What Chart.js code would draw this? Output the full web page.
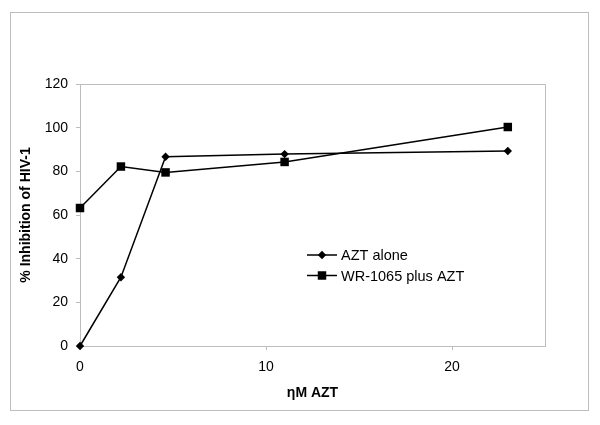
<!DOCTYPE html>
<html>
<head>
<meta charset="utf-8">
<script src="https://cdn.jsdelivr.net/npm/chart.js@4"></script>
<style>
  body { margin: 0; background: #fff; }
  #wrap { width: 600px; height: 425px; }
</style>
</head>
<body>
<div id="wrap"><canvas id="chart"></canvas></div>
<script>
// concentrations (nM) et % inhibition
const doses = [0, 2.2, 4.6, 11, 23];
const aztAlone = [0, 31.5, 86.7, 87.9, 89.3];
const wrPlusAzt = [63.2, 82.2, 79.5, 84.3, 100.3];
const seriesNames = ['AZT alone', 'WR-1065 plus AZT'];
const yTicks = [0, 20, 40, 60, 80, 100, 120];
const xTicks = [0, 10, 20];

const ctx = document.getElementById('chart');
const grey = '#bdbdbd';
const fontFam = '"Liberation Sans", Arial, sans-serif';

// cadre gris, bords haut/droite de la zone, legende dans le graphe
const cadre = {
  id: 'cadre',
  afterDraw(chart) {
    const c = chart.ctx;
    const a = chart.chartArea;
    c.save();
    c.strokeStyle = grey;
    c.lineWidth = 1;
    c.strokeRect(10.5, 12.5, 578, 398);
    c.beginPath();
    c.moveTo(a.left, a.top + 0.5);
    c.lineTo(a.right + 0.5, a.top + 0.5);
    c.lineTo(a.right + 0.5, a.bottom);
    c.stroke();

    c.font = '14.5px ' + fontFam;
    c.textBaseline = 'middle';
    chart.data.datasets.forEach((ds, i) => {
      const y = 255 + i * 20.5;
      c.strokeStyle = '#000';
      c.lineWidth = 1.5;
      c.beginPath();
      c.moveTo(307, y);
      c.lineTo(337, y);
      c.stroke();
      c.fillStyle = '#000';
      Chart.helpers.drawPoint(c, { pointStyle: ds.pointStyle, radius: ds.pointRadius, borderWidth: 0 }, 322, y);
      c.fillText(ds.label, 341, y + 1);
    });
    c.restore();
  }
};

new Chart(ctx, {
  type: 'line',
  data: {
    datasets: [{
      label: seriesNames[0],
      data: doses.map((d, i) => ({ x: d, y: aztAlone[i] })),
      borderColor: '#000',
      backgroundColor: '#000',
      borderWidth: 1.5,
      pointStyle: 'rectRot',
      pointRadius: 4.2,
      pointBorderWidth: 0,
      clip: false
    }, {
      label: seriesNames[1],
      data: doses.map((d, i) => ({ x: d, y: wrPlusAzt[i] })),
      borderColor: '#000',
      backgroundColor: '#000',
      borderWidth: 1.5,
      pointStyle: 'rect',
      pointRadius: 6,
      pointBorderWidth: 0,
      clip: false
    }]
  },
  options: {
    responsive: true,
    maintainAspectRatio: false,
    animation: false,
    layout: { padding: { left: 0, top: 84, right: 55, bottom: 0 } },
    plugins: {
      legend: { display: false },
      tooltip: { enabled: false }
    },
    scales: {
      x: {
        type: 'linear',
        min: 0,
        max: 25,
        afterBuildTicks: s => { s.ticks = xTicks.map(v => ({ value: v })); },
        afterFit: s => { s.height = 79; },
        grid: { display: true, drawOnChartArea: false, tickLength: 4, color: grey },
        border: { color: grey },
        ticks: { color: '#000', padding: 9, font: { family: fontFam, size: 14 } },
        title: {
          display: true,
          text: 'ηM AZT',
          color: '#000',
          padding: { top: 0, bottom: 23 },
          font: { family: fontFam, size: 14, weight: 'bold' }
        }
      },
      y: {
        min: 0,
        max: 120,
        afterBuildTicks: s => { s.ticks = yTicks.map(v => ({ value: v })); },
        afterFit: s => { s.width = 80; },
        grid: { display: true, drawOnChartArea: false, tickLength: 4, color: grey },
        border: { color: grey },
        ticks: { color: '#000', padding: 8, font: { family: fontFam, size: 14 } },
        title: {
          display: true,
          text: '% Inhibition of HIV-1',
          color: '#000',
          padding: { top: 18, bottom: 0 },
          font: { family: fontFam, size: 14, weight: 'bold' }
        }
      }
    }
  },
  plugins: [cadre]
});
</script>
</body>
</html>
